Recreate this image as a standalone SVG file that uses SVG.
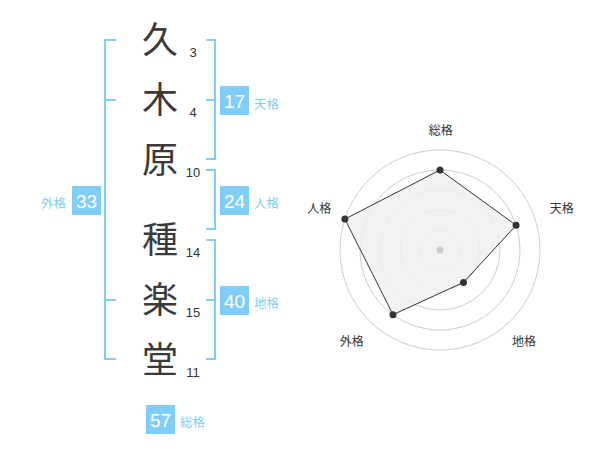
<svg xmlns="http://www.w3.org/2000/svg" width="600" height="470" viewBox="0 0 600 470">
<style>
.k{font-family:"Noto Sans CJK JP","Noto Sans CJK SC",sans-serif;font-size:36px;fill:#3a3a3a;text-anchor:middle}
.n{font-family:"Liberation Sans",Arial,sans-serif;font-size:13px;fill:#333;text-anchor:middle}
.br{fill:none;stroke:#80cdf8;stroke-width:2}
.box{fill:#80cdf8}
.bn{font-family:"Liberation Sans",Arial,sans-serif;font-size:19px;fill:#fff;text-anchor:middle}
.bl{font-family:"Noto Sans CJK JP","Noto Sans CJK SC",sans-serif;font-size:12.5px;fill:#80cdf8}
.rl{font-family:"Noto Sans CJK JP","Noto Sans CJK SC",sans-serif;font-size:12px;fill:#333;text-anchor:middle}
.ring{fill:none;stroke:#ccc;stroke-width:1}
</style>
<rect width="600" height="470" fill="#fff"/>
<g id="chars">
<text class="k" x="160" y="53">久</text><text class="n" x="193" y="57">3</text>
<text class="k" x="160" y="113">木</text><text class="n" x="193" y="117">4</text>
<text class="k" x="160" y="173">原</text><text class="n" x="193" y="177">10</text>
<text class="k" x="160" y="253">種</text><text class="n" x="193" y="257">14</text>
<text class="k" x="160" y="313">楽</text><text class="n" x="193" y="317">15</text>
<text class="k" x="160" y="373">堂</text><text class="n" x="193" y="377">11</text>
</g>
<g id="connectors">
<path class="br" d="M116,40 H105 V359 H116 M105,100 H116 M105,300 H116"/>
<path class="br" d="M206,40 H215 V159 H206 M206,100 H215"/>
<path class="br" d="M206,170 H215 V229 H206"/>
<path class="br" d="M206,240 H215 V359 H206 M206,300 H215"/>
</g>
<g id="tenkaku"><rect class="box" x="220" y="86" width="29" height="29"/><text class="bn" x="234.5" y="107.5">17</text><text class="bl" x="254" y="109">天格</text></g>
<g id="jinkaku"><rect class="box" x="220" y="186" width="29" height="29"/><text class="bn" x="234.5" y="207.5">24</text><text class="bl" x="254" y="208">人格</text></g>
<g id="chikaku"><rect class="box" x="220" y="286" width="29" height="29"/><text class="bn" x="234.5" y="307.5">40</text><text class="bl" x="254" y="308">地格</text></g>
<g id="gaikaku"><rect class="box" x="72" y="186" width="29" height="29"/><text class="bn" x="86.5" y="207.5">33</text><text class="bl" x="41" y="208">外格</text></g>
<g id="soukaku"><rect class="box" x="146" y="405" width="29" height="29"/><text class="bn" x="160.5" y="426.5">57</text><text class="bl" x="180" y="427">総格</text></g>
<g id="radar">
<circle class="ring" cx="440" cy="250" r="20"/>
<circle class="ring" cx="440" cy="250" r="40"/>
<circle class="ring" cx="440" cy="250" r="60"/>
<circle class="ring" cx="440" cy="250" r="80"/>
<circle class="ring" cx="440" cy="250" r="100"/>
<polygon points="440,170 516.1,225.3 463.5,282.4 393,314.7 344.9,219.1" fill="#f0f0f0" fill-opacity="0.85" stroke="#333" stroke-width="1"/>
<circle cx="440" cy="250" r="3.5" fill="#ccc"/>
<g fill="#333">
<circle cx="440" cy="170" r="3.5"/>
<circle cx="516.1" cy="225.3" r="3.5"/>
<circle cx="463.5" cy="282.4" r="3.5"/>
<circle cx="393" cy="314.7" r="3.5"/>
<circle cx="344.9" cy="219.1" r="3.5"/>
</g>
<text class="rl" x="440.7" y="135">総格</text>
<text class="rl" x="561.7" y="213">天格</text>
<text class="rl" x="524" y="346">地格</text>
<text class="rl" x="351.7" y="346">外格</text>
<text class="rl" x="319.3" y="213">人格</text>
</g>
</svg>
